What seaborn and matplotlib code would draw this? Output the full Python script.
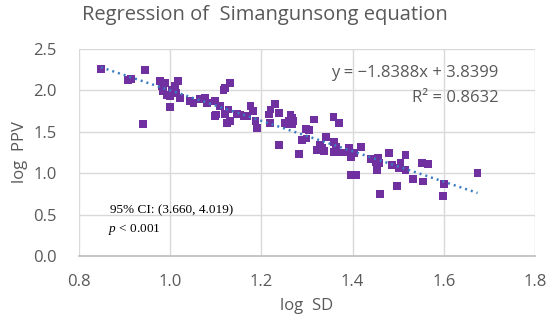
"""Scatter of log PPV vs log SD with Simangunsong regression line."""

import matplotlib

matplotlib.use("Agg")

import matplotlib.pyplot as plt
import numpy as np
import pandas as pd
import seaborn as sns

# values
log_sd = [
    0.848, 0.908, 0.914, 0.944, 0.941, 0.978, 0.982, 0.989, 0.985, 0.993,
    0.999, 1.004, 1.011, 1.018, 1.013, 1.022, 1.000, 1.044, 1.051, 1.066,
    1.077, 1.081, 1.099, 1.110, 1.117, 1.121, 1.132, 1.101, 1.099, 1.121,
    1.128, 1.125, 1.132, 1.147, 1.154, 1.161, 1.169, 1.176, 1.182, 1.187,
    1.191, 1.216, 1.220, 1.229, 1.239, 1.218, 1.251, 1.260, 1.264, 1.268,
    1.256, 1.270, 1.267, 1.239, 1.297, 1.304, 1.289, 1.299, 1.282, 1.316,
    1.358, 1.370, 1.341, 1.328, 1.322, 1.333, 1.337, 1.359, 1.363, 1.359,
    1.374, 1.392, 1.388, 1.396, 1.403, 1.418, 1.396, 1.407, 1.440, 1.451,
    1.456, 1.458, 1.480, 1.453, 1.460, 1.487, 1.502, 1.505, 1.516, 1.516,
    1.497, 1.533, 1.555, 1.553, 1.566, 1.601, 1.598, 1.674,
]
log_ppv = [
    2.26, 2.13, 2.14, 2.25, 1.59, 2.11, 2.05, 2.09, 1.99, 1.95,
    1.93, 2.01, 2.05, 2.11, 1.97, 1.91, 1.80, 1.87, 1.85, 1.90,
    1.91, 1.85, 1.87, 1.81, 2.01, 2.03, 2.09, 1.71, 1.69, 1.72,
    1.77, 1.61, 1.63, 1.72, 1.71, 1.69, 1.69, 1.81, 1.75, 1.63,
    1.55, 1.71, 1.77, 1.84, 1.73, 1.61, 1.61, 1.63, 1.71, 1.59,
    1.59, 1.63, 1.67, 1.34, 1.53, 1.52, 1.40, 1.42, 1.23, 1.65,
    1.68, 1.61, 1.44, 1.34, 1.28, 1.30, 1.27, 1.38, 1.32, 1.26,
    1.25, 1.30, 1.25, 1.19, 1.24, 1.32, 0.98, 0.98, 1.17, 1.14,
    1.19, 1.12, 1.24, 1.04, 0.75, 1.10, 1.06, 1.13, 1.04, 1.22,
    0.85, 0.93, 0.90, 1.12, 1.11, 0.87, 0.72, 1.00,
]
slope = -1.8388
intercept = 3.8399
r_squared = 0.8632
ci_low, ci_high = 3.660, 4.019
x_ticks = [0.8, 1.0, 1.2, 1.4, 1.6, 1.8]
y_ticks = [0.0, 0.5, 1.0, 1.5, 2.0, 2.5]

TEXT = "#595959"
GRID = "#d9d9d9"

sns.set_theme(style="white")
plt.rcParams["font.family"] = ["Open Sans", "DejaVu Sans"]
plt.rcParams["mathtext.fontset"] = "custom"
plt.rcParams["mathtext.it"] = "Liberation Serif:italic"
plt.rcParams["mathtext.rm"] = "Liberation Serif"

data = pd.DataFrame({"log SD": log_sd, "log PPV": log_ppv})
fit_x = np.linspace(min(log_sd), max(log_sd), 50)
fit = pd.DataFrame({"x": fit_x, "y": slope * fit_x + intercept})

fig = plt.figure(figsize=(5.5, 3.25), dpi=100)
ax = fig.add_axes([0.1436, 0.2123, 0.8291, 0.6367])

sns.scatterplot(
    data=data, x="log SD", y="log PPV", ax=ax,
    marker="s", s=32, color="#7030a0", edgecolor="none", zorder=3,
)
sns.lineplot(
    data=fit, x="x", y="y", ax=ax,
    color="#3a7cc2", linewidth=1.8, linestyle=(0, (0.8, 1.6)), zorder=4,
)

ax.set_xlim(0.8, 1.8)
ax.set_ylim(0.0, 2.5)
ax.set_xticks(x_ticks)
ax.set_yticks(y_ticks)
ax.set_xticklabels([f"{v:.1f}" for v in x_ticks])
ax.set_yticklabels([f"{v:.1f}" for v in y_ticks])
ax.tick_params(colors=TEXT, labelsize=12, length=0)
ax.tick_params(axis="x", pad=13)
ax.tick_params(axis="y", pad=16)
ax.grid(True, color=GRID, linewidth=1.0)
ax.set_axisbelow(True)
for name, spine in ax.spines.items():
    spine.set_visible(name == "bottom")
ax.spines["bottom"].set_color("#bfbfbf")

ax.set_xlabel("log  SD", color=TEXT, fontsize=12, labelpad=6)
ax.set_ylabel("log  PPV", color=TEXT, fontsize=12, labelpad=4)
fig.text(0.482, 0.955, "Regression of  Simangunsong equation",
         ha="center", va="center", color=TEXT, fontsize=14.5)

ax.text(0.92, 0.886, f"y = \u2212{abs(slope):.4f}x + {intercept:.4f}",
        transform=ax.transAxes, ha="right", va="center",
        color=TEXT, fontsize=12)
ax.text(0.92, 0.765, f"R\u00b2 = {r_squared:.4f}",
        transform=ax.transAxes, ha="right", va="center",
        color=TEXT, fontsize=12)

ax.text(0.068, 0.223, f"95% CI: ({ci_low:.3f}, {ci_high:.3f})",
        transform=ax.transAxes, ha="left", va="center",
        family="Liberation Serif", fontsize=9.5, color="black")
ax.text(0.063, 0.126, r"$p$ < 0.001",
        transform=ax.transAxes, ha="left", va="center",
        family="Liberation Serif", fontsize=9.5, color="black")

fig.savefig("out.png", dpi=100)
plt.close(fig)
